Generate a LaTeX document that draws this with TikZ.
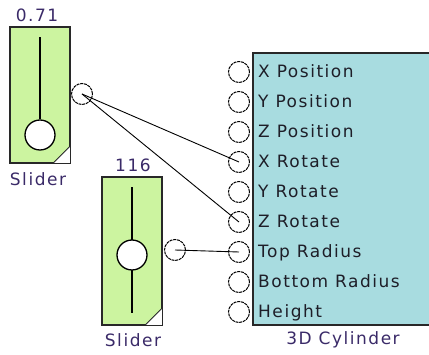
\documentclass[tikz,border=0pt]{standalone}
\usepackage{fontspec}
\setmainfont{DejaVu Sans}[LetterSpace=9]
\usepackage{xcolor}
\usetikzlibrary{positioning,calc}

\definecolor{sliderfill}{RGB}{204,244,160}
\definecolor{cylfill}{RGB}{168,220,224}
\definecolor{boxedge}{RGB}{40,40,40}
\definecolor{titletext}{RGB}{58,42,104}
\definecolor{porttext}{RGB}{30,30,40}

\tikzset{
  sliderbox/.style={draw=boxedge, fill=sliderfill, line width=1.3pt, minimum width=60pt, inner sep=0pt},
  knob/.style={circle, draw=black, fill=white, line width=1.3pt, minimum size=30pt, inner sep=0pt},
  port/.style={circle, draw=black, fill=white, line width=1pt, dash pattern=on 3pt off 0.8pt, minimum size=21pt, inner sep=0pt},
  title/.style={font=\fontsize{17}{19}\selectfont, text=titletext, inner sep=0pt},
  inlabel/.style={font=\fontsize{17}{19}\selectfont, text=porttext, inner sep=0pt, anchor=base west},
  wire/.style={draw=black, line width=0.9pt}
}

\begin{document}
\begin{tikzpicture}[x=1pt, y=-1pt]
  \useasboundingbox (0,0) rectangle (429,355);

  % first slider
  \node[sliderbox, minimum height=136pt] (s1) at (40,95) {};
  \node[knob] (k1) at (40,135) {};
  \draw[line width=1.3pt] ($(s1.north)+(0,11)$) -- (k1.north);
  \fill[white] (s1.south east) -- ++(-18,0) -- ++(18,-18) -- cycle;
  \draw[boxedge, line width=0.8pt] ($(s1.south east)+(-18,0)$) -- ++(18,-18);
  \draw[boxedge, line width=1.3pt] (s1.north west) rectangle (s1.south east);
  \node[title] (v1) at (37,15) {0.71};
  \node[title] (n1) at (38,179) {Slider};
  \node[port] (o1) at (82,94) {};

  % second slider
  \node[sliderbox, minimum height=148pt] (s2) at (132,251) {};
  \draw[line width=1.3pt] ($(s2.north)+(0,11)$) -- ($(s2.south)+(0,-13)$);
  \node[knob] (k2) at (132,255) {};
  \fill[white] (s2.south east) -- ++(-18,0) -- ++(18,-18) -- cycle;
  \draw[boxedge, line width=0.8pt] ($(s2.south east)+(-18,0)$) -- ++(18,-18);
  \draw[boxedge, line width=1.3pt] (s2.north west) rectangle (s2.south east);
  \node[title] (v2) at (133,165) {116};
  \node[title] (n2) at (133,340) {Slider};
  \node[port] (o2) at (175,250) {};

  % 3D cylinder block
  \draw[boxedge, fill=cylfill, line width=1.5pt] (253,53) rectangle (430,325);
  \foreach \lbl [count=\i] in {X Position, Y Position, Z Position, X Rotate,
      Y Rotate, Z Rotate, Top Radius, Bottom Radius, Height} {
    \node[port] (c\i) at (239,{42+30*\i}) {};
    \node[inlabel] (l\i) at (258,{48+30*\i}) {\lbl};
  }
  \node[title] (n3) at (343,340) {3D Cylinder};

  % wires
  \draw[wire] (o1.center) -- (c4.center);
  \draw[wire] (o1.center) -- (c6.center);
  \draw[wire] (o2.center) -- (c7.center);
\end{tikzpicture}
\end{document}
